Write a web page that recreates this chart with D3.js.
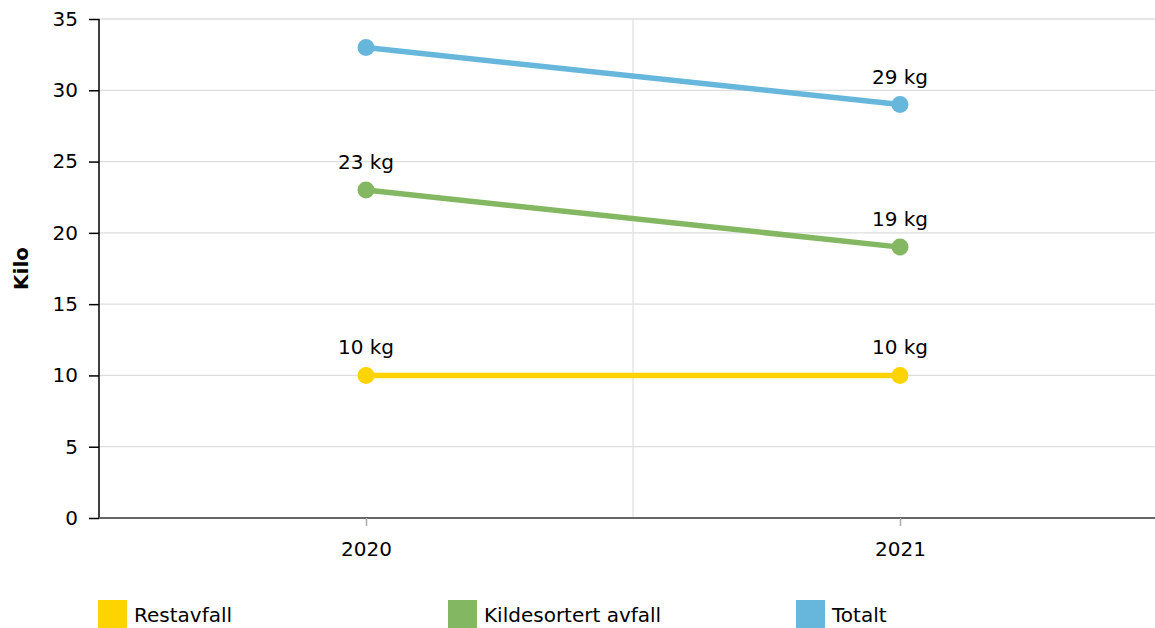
<!DOCTYPE html>
<html>
<head>
<meta charset="utf-8">
<script src="https://cdn.jsdelivr.net/npm/d3@7"></script>
<style>
html,body{margin:0;padding:0;background:#fff;}
svg{display:block;font-family:"DejaVu Sans",Verdana,sans-serif;}
</style>
</head>
<body>
<svg id="chart" width="1155" height="628"></svg>
<script>
const categories = ["2020", "2021"];
const seriesNames = ["Restavfall", "Kildesortert avfall", "Totalt"];
const restavfall = [10, 10];
const kildesortert = [23, 19];
const totalt = [33, 29];
const labelsRestavfall = ["10 kg", "10 kg"];
const labelsKildesortert = ["23 kg", "19 kg"];
const labelsTotalt = [null, "29 kg"];
const yTicks = [0, 5, 10, 15, 20, 25, 30, 35];
const colors = ["#fdd400", "#84b761", "#67b7dc"];

const series = [
  {name: seriesNames[0], values: restavfall, labels: labelsRestavfall, color: colors[0]},
  {name: seriesNames[1], values: kildesortert, labels: labelsKildesortert, color: colors[1]},
  {name: seriesNames[2], values: totalt, labels: labelsTotalt, color: colors[2]}
];

const W = 1155, H = 628;
const m = {left: 99, top: 19, bottom: 518};
const fs = 20;
const svg = d3.select("#chart");

const x = d3.scalePoint().domain(categories).range([m.left, 1167]).padding(0.5);
const y = d3.scaleLinear().domain([0, 35]).range([m.bottom, m.top]);

// horizontal grid
svg.append("g").selectAll("line").data(yTicks.filter(d => d > 0)).join("line")
  .attr("x1", m.left).attr("x2", W)
  .attr("y1", d => y(d)).attr("y2", d => y(d))
  .attr("stroke", "#dddddd").attr("stroke-width", 1.3);

// vertical divider between categories
const mid = (x(categories[0]) + x(categories[1])) / 2;
svg.append("line").attr("x1", mid).attr("x2", mid).attr("y1", m.top).attr("y2", m.bottom)
  .attr("stroke", "#e2e2e2").attr("stroke-width", 1.3);

// y axis
const yAxis = svg.append("g").attr("transform", `translate(${m.left},0)`)
  .call(d3.axisLeft(y).tickValues(yTicks).tickSize(10).tickPadding(11));
yAxis.select(".domain").attr("stroke", "#000").attr("stroke-width", 1.5).attr("d", `M0,${m.top}V${m.bottom}`);
yAxis.selectAll(".tick line").attr("stroke", "#000").attr("stroke-width", 1.5);
yAxis.selectAll("text").attr("font-size", fs).attr("font-family", "DejaVu Sans").attr("fill", "#000");

// x axis
const xAxis = svg.append("g").attr("transform", `translate(0,${m.bottom})`)
  .call(d3.axisBottom(x).tickSize(8).tickPadding(16));
xAxis.select(".domain").attr("stroke", "#666").attr("stroke-width", 2).attr("d", `M${m.left},0H${W}`);
xAxis.selectAll(".tick line").attr("stroke", "#aaa").attr("stroke-width", 1.5);
xAxis.selectAll("text").attr("font-size", fs).attr("font-family", "DejaVu Sans").attr("fill", "#000");

// y title
svg.append("text").attr("transform", `translate(28,${(m.top + m.bottom) / 2}) rotate(-90)`)
  .attr("text-anchor", "middle").attr("font-size", fs).attr("font-weight", "bold").text("Kilo");

// lines
const line = d3.line().x((d, i) => x(categories[i])).y(d => y(d));
series.forEach(s => {
  const g = svg.append("g");
  g.append("path").attr("d", line(s.values)).attr("fill", "none")
    .attr("stroke", s.color).attr("stroke-width", 5.5);
  g.selectAll("circle").data(s.values).join("circle")
    .attr("cx", (d, i) => x(categories[i])).attr("cy", d => y(d)).attr("r", 8.5)
    .attr("fill", s.color);
  g.selectAll("text").data(s.values).join("text")
    .attr("x", (d, i) => x(categories[i])).attr("y", d => y(d) - 21)
    .attr("text-anchor", "middle").attr("font-size", fs).attr("fill", "#000")
    .text((d, i) => s.labels[i] || "");
});

// legend
const legendX = [98, 448, 796];
const lg = svg.append("g");
series.forEach((s, i) => {
  lg.append("rect").attr("x", legendX[i]).attr("y", 600).attr("width", 29).attr("height", 29).attr("fill", s.color);
  lg.append("text").attr("x", legendX[i] + 36).attr("y", 622).attr("font-size", fs).attr("fill", "#000").text(s.name);
});
</script>
</body>
</html>
